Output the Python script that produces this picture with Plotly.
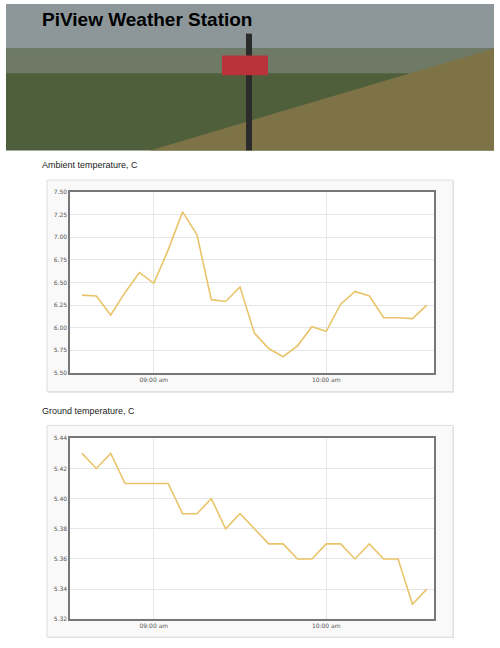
import plotly.graph_objects as go
import pandas as pd

# dados (leituras a cada 5 minutos)
times = pd.date_range("2015-01-01 08:35", "2015-01-01 10:35", freq="5min")
ambient = [6.36, 6.35, 6.14, 6.39, 6.61, 6.49, 6.86, 7.28, 7.03, 6.31, 6.29, 6.45, 5.94,
           5.77, 5.68, 5.80, 6.01, 5.96, 6.26, 6.40, 6.35, 6.11, 6.11, 6.10, 6.25]
ground = [5.43, 5.42, 5.43, 5.41, 5.41, 5.41, 5.41, 5.39, 5.39, 5.40, 5.38, 5.39, 5.38,
          5.37, 5.37, 5.36, 5.36, 5.37, 5.37, 5.36, 5.37, 5.36, 5.36, 5.33, 5.34]
tick_times = ["2015-01-01 09:00", "2015-01-01 10:00"]
tick_labels = ["09:00 am", "10:00 am"]

W, H = 500, 648
def px_x(v): return v / W
def px_y(v): return 1 - v / H

fig = go.Figure()
line_color = "#e9c46a"
fig.add_trace(go.Scatter(x=times, y=ambient, mode="lines", line=dict(color=line_color, width=1.6),
                         xaxis="x", yaxis="y"))
fig.add_trace(go.Scatter(x=times, y=ground, mode="lines", line=dict(color=line_color, width=1.6),
                         xaxis="x2", yaxis="y2"))

axis_common = dict(showgrid=True, gridcolor="#e6e6e6", showline=True, linecolor="#777",
                   linewidth=1.5, mirror=True, zeroline=False, ticks="",
                   tickfont=dict(family="DejaVu Sans", size=6, color="#555"))
xr = ["2015-01-01 08:30:50", "2015-01-01 10:37:30"]
fig.update_layout(
    xaxis=dict(domain=[px_x(70), px_x(434)], anchor="y", range=xr, tickvals=tick_times,
               ticktext=tick_labels, **axis_common),
    yaxis=dict(domain=[px_y(373), px_y(190)], anchor="x", range=[5.5, 7.5], dtick=0.25,
               tickformat=".2f", **axis_common),
    xaxis2=dict(domain=[px_x(70), px_x(434)], anchor="y2", range=xr, tickvals=tick_times,
                ticktext=tick_labels, **axis_common),
    yaxis2=dict(domain=[px_y(622), px_y(439)], anchor="x2", range=[5.32, 5.44], dtick=0.02,
                tickformat=".2f", **axis_common),
)

shapes = []
# cabeçalho (aproximação da foto)
shapes.append(dict(type="rect", xref="paper", yref="paper", x0=px_x(6), x1=px_x(494),
                   y0=px_y(148), y1=px_y(0), fillcolor="#4f5f3c", line_width=0, layer="below"))
shapes.append(dict(type="rect", xref="paper", yref="paper", x0=px_x(6), x1=px_x(494),
                   y0=px_y(45), y1=px_y(0), fillcolor="#8d979a", line_width=0, layer="below"))
shapes.append(dict(type="rect", xref="paper", yref="paper", x0=px_x(6), x1=px_x(494),
                   y0=px_y(70), y1=px_y(45), fillcolor="#6e7a66", line_width=0, layer="below"))
shapes.append(dict(type="path", xref="paper", yref="paper", layer="below", line_width=0,
                   fillcolor="#7d7346",
                   path=f"M {px_x(150)},{px_y(148)} L {px_x(494)},{px_y(45)} L {px_x(494)},{px_y(148)} Z"))
shapes.append(dict(type="rect", xref="paper", yref="paper", x0=px_x(246), x1=px_x(252),
                   y0=px_y(148), y1=px_y(30), fillcolor="#2b2b2b", line_width=0, layer="below"))
shapes.append(dict(type="rect", xref="paper", yref="paper", x0=px_x(222), x1=px_x(268),
                   y0=px_y(72), y1=px_y(52), fillcolor="#b8343a", line_width=0, layer="below"))
# cartões dos gráficos
for top, bottom in [(178, 392), (426, 640)]:
    shapes.append(dict(type="rect", xref="paper", yref="paper", x0=px_x(48), x1=px_x(454),
                       y0=px_y(bottom + 1), y1=px_y(top + 1), fillcolor="#e4e4e4",
                       line_width=0, layer="below"))
    shapes.append(dict(type="rect", xref="paper", yref="paper", x0=px_x(47), x1=px_x(453),
                       y0=px_y(bottom), y1=px_y(top), fillcolor="#f9f9f9",
                       line=dict(color="#dddddd", width=1), layer="below"))
    shapes.append(dict(type="rect", xref="paper", yref="paper", x0=px_x(70), x1=px_x(434),
                       y0=px_y(bottom - 19), y1=px_y(top + 12), fillcolor="white",
                       line_width=0, layer="below"))

annotations = [
    dict(text="<b>PiView Weather Station</b>", x=px_x(40), y=px_y(16), xref="paper", yref="paper",
         xanchor="left", yanchor="middle", showarrow=False,
         font=dict(family="Liberation Sans", size=19, color="black")),
    dict(text="Ambient temperature, C", x=px_x(40), y=px_y(163), xref="paper", yref="paper",
         xanchor="left", yanchor="middle", showarrow=False,
         font=dict(family="Liberation Sans", size=9, color="#222")),
    dict(text="Ground temperature, C", x=px_x(40), y=px_y(411), xref="paper", yref="paper",
         xanchor="left", yanchor="middle", showarrow=False,
         font=dict(family="Liberation Sans", size=9, color="#222")),
]

fig.update_layout(width=W, height=H, margin=dict(l=0, r=0, t=0, b=0), showlegend=False,
                  paper_bgcolor="white", plot_bgcolor="white", shapes=shapes,
                  annotations=annotations)

fig.write_html("out.html", config={"displayModeBar": False},
               post_script="document.body.style.margin='0';")
